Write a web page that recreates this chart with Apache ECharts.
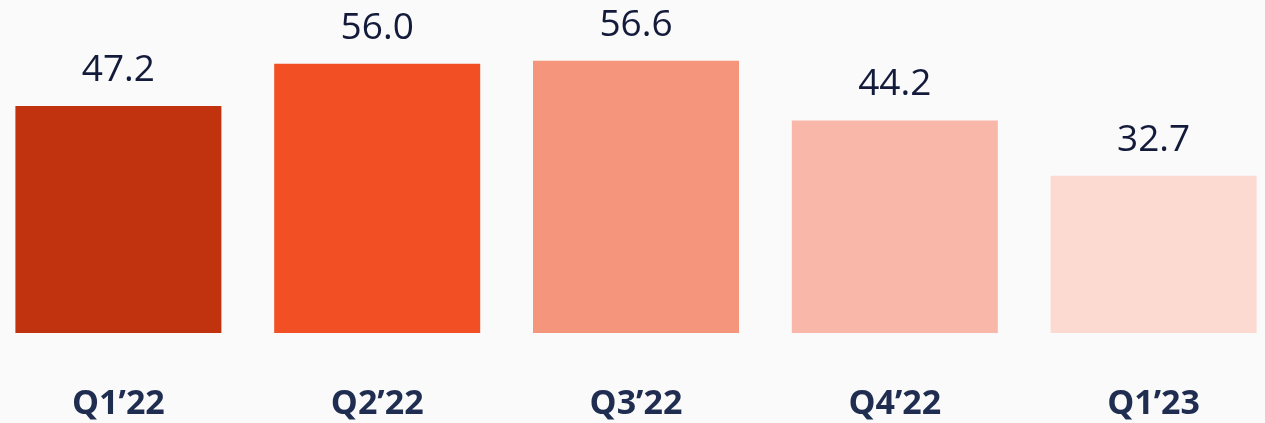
<!DOCTYPE html>
<html><head><meta charset="utf-8">
<script src="https://cdn.jsdelivr.net/npm/echarts@6/dist/echarts.min.js"></script>
<style>html,body{margin:0;padding:0;background:#fafafa;overflow:hidden;width:1265px;height:423px;position:relative}
#c{position:absolute;left:-11.4px;top:0;width:1294px;height:423px}</style>
</head><body><div id="c"></div>
<script>
const categories = ["Q1’22", "Q2’22", "Q3’22", "Q4’22", "Q1’23"];
const values = [47.2, 56.0, 56.6, 44.2, 32.7];
const colors = ["#c0330e", "#f24f24", "#f5967c", "#f8b7a8", "#fcdad1"];

const chart = echarts.init(document.getElementById('c'));
chart.setOption({
  backgroundColor: '#fafafa',
  animation: false,
  grid: { left: 0, right: 0, top: 44.4, bottom: 90, containLabel: false },
  xAxis: {
    type: 'category', data: categories,
    axisLine: { show: false }, axisTick: { show: false },
    axisLabel: { margin: 54, fontFamily: 'Open Sans', fontWeight: 'bold', fontSize: 34, color: '#1f2d50' }
  },
  yAxis: { type: 'value', min: 0, max: 60, show: false, splitLine: { show: false } },
  series: [{
    type: 'bar', barWidth: 206,
    data: values.map((v, i) => ({ value: v, itemStyle: { color: colors[i] } })),
    label: { show: true, position: 'top', distance: 17, formatter: p => p.value.toFixed(1),
      fontFamily: 'Open Sans', fontSize: 37, color: '#131a3a' }
  }]
});
</script></body></html>
